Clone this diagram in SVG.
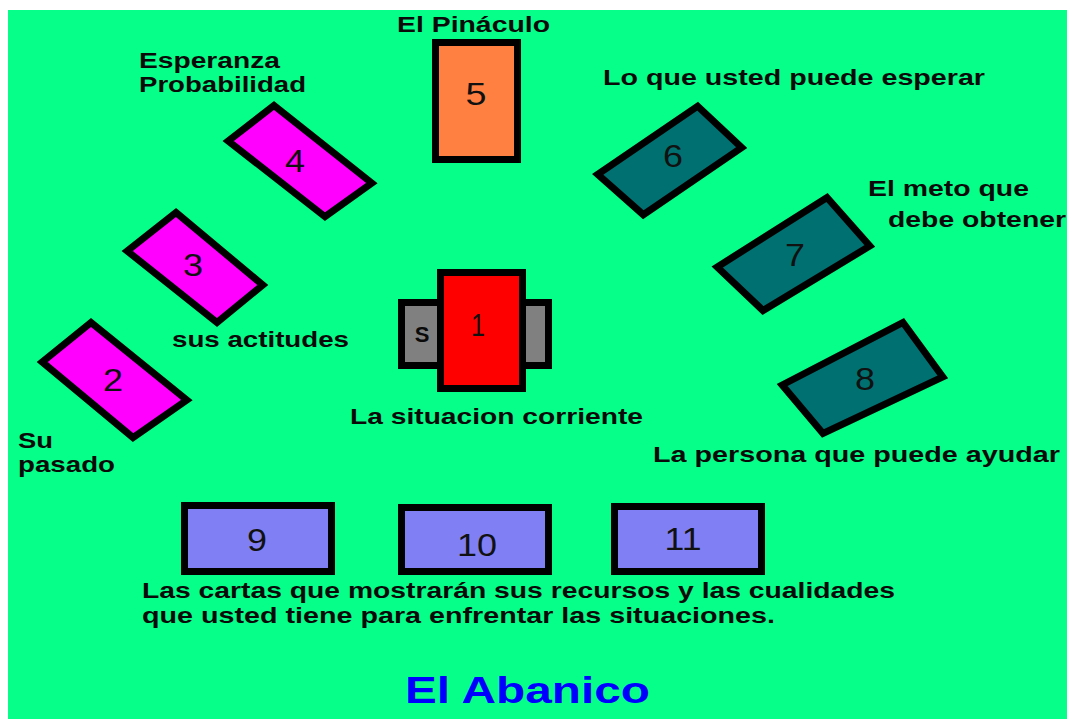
<svg xmlns="http://www.w3.org/2000/svg" width="1067" height="719" viewBox="0 0 1067 719">
<style>
.card{stroke:#000;stroke-width:7;stroke-linejoin:miter}
.mag{fill:#FF00FF}
.teal{fill:#007070}
.lav{fill:#8080F4}
.num{font-family:"Liberation Sans",Arial,sans-serif;font-size:31px;fill:#111;text-anchor:middle}
.lbl{font-family:"Liberation Sans",Arial,sans-serif;font-size:22px;font-weight:bold;fill:#0a0a0a}
.title{font-family:"Liberation Sans",Arial,sans-serif;font-size:36px;font-weight:bold;fill:#0000FF}
</style>
<rect x="0" y="0" width="1067" height="719" fill="#ffffff"/>
<rect x="8" y="10" width="1059" height="709" fill="#06FF88"/>
<g id="connectors"/>
<g id="card5">
<rect class="card" x="435.5" y="42.5" width="82" height="117" fill="#FF8040"/>
<text class="num" x="476" y="105" textLength="21" lengthAdjust="spacingAndGlyphs">5</text>
</g>
<g id="card1">
<rect class="card" x="401.5" y="302.5" width="147" height="63" fill="#808080"/>
<text class="lbl" x="422" y="342" text-anchor="middle" font-size="24" fill="#222">S</text>
<rect class="card" x="440.5" y="272.5" width="82" height="116" fill="#FF0000"/>
<text class="num" x="478" y="336" textLength="14" lengthAdjust="spacingAndGlyphs">1</text>
</g>
<g id="card4">
<polygon class="card mag" points="274,105.5 371.8,183 325,216.7 228.2,141"/>
<text class="num" x="295" y="172" textLength="20" lengthAdjust="spacingAndGlyphs">4</text>
</g>
<g id="card3">
<polygon class="card mag" points="176,212.5 262.8,285 217,322.5 127.2,251"/>
<text class="num" x="193" y="276" textLength="20" lengthAdjust="spacingAndGlyphs">3</text>
</g>
<g id="card2">
<polygon class="card mag" points="91,322.5 186.8,400 133,437.5 42.2,362"/>
<text class="num" x="113" y="391" textLength="20" lengthAdjust="spacingAndGlyphs">2</text>
</g>
<g id="card6">
<polygon class="card teal" points="697.7,106.2 741.7,147.6 643.3,214.7 597.7,174.4"/>
<text class="num" x="673" y="167" textLength="20" lengthAdjust="spacingAndGlyphs">6</text>
</g>
<g id="card7">
<polygon class="card teal" points="827,197.5 869.8,246 763,310.5 717.2,267"/>
<text class="num" x="795" y="266" textLength="20" lengthAdjust="spacingAndGlyphs">7</text>
</g>
<g id="card8">
<polygon class="card teal" points="903,322.5 942.8,377 823,433.5 782.2,385"/>
<text class="num" x="865" y="390" textLength="20" lengthAdjust="spacingAndGlyphs">8</text>
</g>
<g id="card9">
<rect class="card lav" x="184.5" y="505.5" width="147" height="66"/>
<text class="num" x="257" y="551" textLength="20" lengthAdjust="spacingAndGlyphs">9</text>
</g>
<g id="card10">
<rect class="card lav" x="401.5" y="507.5" width="147" height="64"/>
<text class="num" x="477" y="556" textLength="40" lengthAdjust="spacingAndGlyphs">10</text>
</g>
<g id="card11">
<rect class="card lav" x="614.5" y="506.5" width="147" height="65"/>
<text class="num" x="683" y="550" textLength="37" lengthAdjust="spacingAndGlyphs">11</text>
</g>
<g id="labels">
<text class="lbl" x="397" y="32" textLength="153" lengthAdjust="spacingAndGlyphs">El Pináculo</text>
<text class="lbl" x="139" y="68" textLength="141" lengthAdjust="spacingAndGlyphs">Esperanza</text>
<text class="lbl" x="139" y="92" textLength="167" lengthAdjust="spacingAndGlyphs">Probabilidad</text>
<text class="lbl" x="603" y="85" textLength="382" lengthAdjust="spacingAndGlyphs">Lo que usted puede esperar</text>
<text class="lbl" x="868" y="196" textLength="161" lengthAdjust="spacingAndGlyphs">El meto que</text>
<text class="lbl" x="888" y="227" textLength="178" lengthAdjust="spacingAndGlyphs">debe obtener</text>
<text class="lbl" x="172" y="347" textLength="177" lengthAdjust="spacingAndGlyphs">sus actitudes</text>
<text class="lbl" x="350" y="424" textLength="293" lengthAdjust="spacingAndGlyphs">La situacion corriente</text>
<text class="lbl" x="18" y="448" textLength="35" lengthAdjust="spacingAndGlyphs">Su</text>
<text class="lbl" x="18" y="472" textLength="97" lengthAdjust="spacingAndGlyphs">pasado</text>
<text class="lbl" x="653" y="462" textLength="407" lengthAdjust="spacingAndGlyphs">La persona que puede ayudar</text>
<text class="lbl" x="142" y="598" textLength="753" lengthAdjust="spacingAndGlyphs">Las cartas que mostrarán sus recursos y las cualidades</text>
<text class="lbl" x="142" y="623" textLength="633" lengthAdjust="spacingAndGlyphs">que usted tiene para enfrentar las situaciones.</text>
<text class="title" x="405" y="703" textLength="245" lengthAdjust="spacingAndGlyphs">El Abanico</text>
</g>
</svg>
